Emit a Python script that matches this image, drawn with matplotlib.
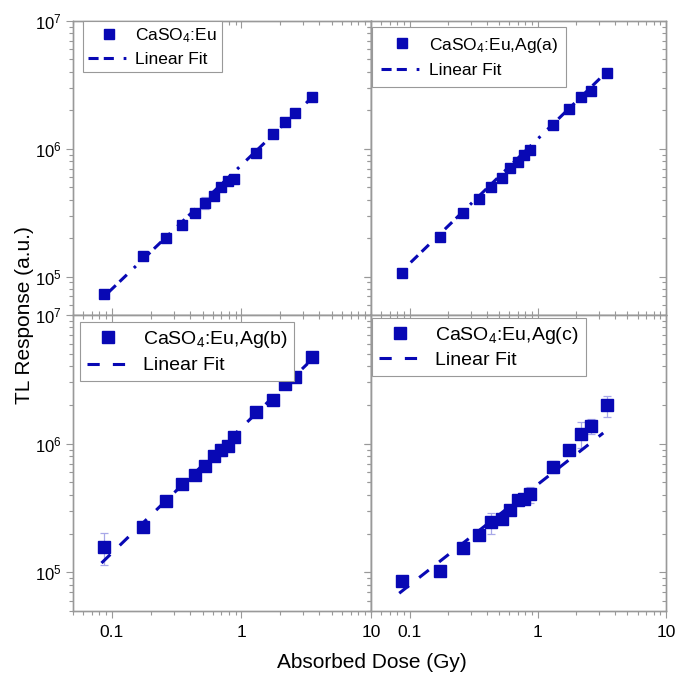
import matplotlib
matplotlib.use('Agg')
import matplotlib.pyplot as plt
from matplotlib.lines import Line2D
from matplotlib.ticker import FuncFormatter, NullFormatter

plt.rcParams['font.family'] = ['Liberation Sans', 'DejaVu Sans']
plt.rcParams['mathtext.fontset'] = 'custom'
plt.rcParams['mathtext.rm'] = 'Liberation Sans'
plt.rcParams['mathtext.it'] = 'Liberation Sans:italic'
plt.rcParams['mathtext.bf'] = 'Liberation Sans:bold'

# ---------------- data ----------------
dose = [0.087, 0.174, 0.261, 0.348, 0.435, 0.522, 0.609, 0.696, 0.783, 0.870,
        1.305, 1.74, 2.175, 2.61, 3.48]

tl_eu = [7.3e4, 1.45e5, 2.02e5, 2.53e5, 3.16e5, 3.78e5, 4.26e5, 5.0e5, 5.57e5, 5.85e5,
         9.25e5, 1.31e6, 1.61e6, 1.92e6, 2.55e6]
err_eu = [0, 0, 0, 0, 0, 4.0e4, 0, 0, 0, 0, 0, 0, 0, 0, 0]

tl_ag_a = [1.06e5, 2.04e5, 3.16e5, 4.01e5, 5.0e5, 5.92e5, 7.08e5, 7.88e5, 8.87e5, 9.82e5,
           1.54e6, 2.04e6, 2.55e6, 2.84e6, 3.93e6]
err_ag_a = [0] * 15

tl_ag_b = [1.58e5, 2.23e5, 3.56e5, 4.82e5, 5.7e5, 6.75e5, 7.95e5, 8.97e5, 9.52e5, 1.13e6,
           1.75e6, 2.19e6, 2.92e6, 3.29e6, 4.68e6]
err_ag_b = [4.5e4, 0, 0, 0, 0, 0, 0, 1.0e5, 0, 0, 0, 0, 0, 0, 0]

tl_ag_c = [8.5e4, 1.02e5, 1.55e5, 1.94e5, 2.44e5, 2.6e5, 3.06e5, 3.62e5, 3.7e5, 4.03e5,
           6.63e5, 8.97e5, 1.19e6, 1.37e6, 1.99e6]
err_ag_c = [0, 0, 0, 1.5e4, 4.5e4, 0, 0, 0, 0, 6.0e4, 7.5e4, 0, 2.7e5, 1.9e5, 3.7e5]

fit_x_eu = [0.094, 3.33]
fit_y_eu = [7.53e4, 2.4e6]
fit_x_ag_a = [0.102, 3.15]
fit_y_ag_a = [1.29e5, 3.66e6]
fit_x_ag_b = [0.083, 3.24]
fit_y_ag_b = [1.18e5, 4.19e6]
fit_x_ag_c = [0.083, 3.24]
fit_y_ag_c = [6.87e4, 1.21e6]

labels = [r'CaSO$_4$:Eu', r'CaSO$_4$:Eu,Ag(a)', r'CaSO$_4$:Eu,Ag(b)', r'CaSO$_4$:Eu,Ag(c)']
fit_label = 'Linear Fit'
x_ticks_labels = ['0.1', '1', '10']

# ---------------- style ----------------
W, H = 690, 673
blue = '#0808b4'
errc = '#a8a8e8'
spine_c = '#999999'

fig = plt.figure(figsize=(W / 100, H / 100), dpi=100)

def frac(x0, y0, x1, y1):
    return [x0 / W, 1 - y1 / H, (x1 - x0) / W, (y1 - y0) / H]

rects = [frac(73, 21, 371, 315), frac(371, 21, 666, 315),
         frac(73, 315, 371, 611), frac(371, 315, 666, 611)]

series = [(tl_eu, err_eu, fit_x_eu, fit_y_eu),
          (tl_ag_a, err_ag_a, fit_x_ag_a, fit_y_ag_a),
          (tl_ag_b, err_ag_b, fit_x_ag_b, fit_y_ag_b),
          (tl_ag_c, err_ag_c, fit_x_ag_c, fit_y_ag_c)]

top_dash = (3.3, 1.7, 3.3, 3.2, 0.9, 3.2)
bot_dash = (4.0, 4.3)

leg_cfg = [
    dict(fs=12.5, anchor=(0.033, 1.0), hl=2.4, htp=0.3, bp=0.3, ls=0.4, ms=7.8, lms=7, dash=top_dash),
    dict(fs=12.5, anchor=(0.004, 0.98), hl=2.4, htp=0.35, bp=0.5, ls=0.5, ms=7.8, lms=7, dash=top_dash),
    dict(fs=14, anchor=(0.023, 0.976), hl=2.2, htp=0.7, bp=0.35, ls=0.35, ms=9.3, lms=9, dash=bot_dash),
    dict(fs=14, anchor=(0.004, 0.99), hl=2.2, htp=0.7, bp=0.35, ls=0.3, ms=9.3, lms=9, dash=bot_dash),
]

xfmt = FuncFormatter(lambda v, p: {0.1: x_ticks_labels[0], 1.0: x_ticks_labels[1],
                                    10.0: x_ticks_labels[2]}.get(round(v, 3), ''))

for i, (rect, (tl, err, fx, fy), lab, cfg) in enumerate(zip(rects, series, labels, leg_cfg)):
    ax = fig.add_axes(rect)
    bottom_row = i >= 2
    left_col = i % 2 == 0

    ax.errorbar(dose, tl, yerr=err, fmt='none', ecolor=errc, elinewidth=0.9,
                capsize=3, capthick=0.9, zorder=2)
    ax.plot(fx, fy, color=blue, lw=2.2, dashes=cfg['dash'], zorder=3,
            solid_capstyle='butt', dash_capstyle='butt')
    ax.plot(dose, tl, 's', color=blue, ms=cfg['ms'], mec=blue, zorder=4, ls='none')

    ax.set_xscale('log')
    ax.set_yscale('log')
    ax.set_xlim(0.05, 10)
    ax.set_ylim(5e4, 1e7)

    ax.xaxis.set_major_formatter(xfmt)
    ax.xaxis.set_minor_formatter(NullFormatter())
    ax.yaxis.set_minor_formatter(NullFormatter())

    ax.tick_params(axis='y', which='both', direction='out', left=True, right=False,
                   labelleft=left_col, labelsize=12, pad=3.5, color=spine_c, width=0.8)
    ax.tick_params(axis='x', which='both', direction='out' if bottom_row else 'in',
                   bottom=True, top=False, labelbottom=bottom_row, labelsize=12.5,
                   pad=5, color=spine_c, width=0.8)
    ax.tick_params(which='major', length=5)
    ax.tick_params(which='minor', length=3)

    tx = ax.twinx()
    tx.set_yscale('log')
    tx.set_ylim(5e4, 1e7)
    tx.tick_params(axis='y', which='both', direction='in', labelright=False,
                   color=spine_c, width=0.8)
    tx.tick_params(which='major', length=5)
    tx.tick_params(which='minor', length=3)
    tx.yaxis.set_minor_formatter(NullFormatter())

    ty = ax.twiny()
    ty.set_xscale('log')
    ty.set_xlim(0.05, 10)
    ty.tick_params(axis='x', which='both', direction='in', labeltop=False,
                   color=spine_c, width=0.8)
    ty.tick_params(which='major', length=5)
    ty.tick_params(which='minor', length=3)
    ty.xaxis.set_minor_formatter(NullFormatter())

    for a in (ax, tx, ty):
        for s in a.spines.values():
            s.set_color(spine_c)
            s.set_linewidth(0.9)

    handles = [Line2D([], [], marker='s', ls='none', color=blue, ms=cfg['lms']),
               Line2D([], [], color=blue, lw=2.2, dashes=cfg['dash'])]
    leg = ty.legend(handles, [lab, fit_label], loc='upper left',
                    bbox_to_anchor=cfg['anchor'], bbox_transform=ax.transAxes,
                    borderaxespad=0, fontsize=cfg['fs'], handlelength=cfg['hl'],
                    handletextpad=cfg['htp'], borderpad=cfg['bp'],
                    labelspacing=cfg['ls'], fancybox=False, framealpha=1,
                    edgecolor=spine_c)
    leg.get_frame().set_linewidth(0.8)
    leg.set_zorder(10)

fig.text(25 / W, 1 - 315 / H, 'TL Response (a.u.)', rotation=90, fontsize=15,
         ha='center', va='center')
fig.text(372 / W, 1 - 662 / H, 'Absorbed Dose (Gy)', fontsize=15,
         ha='center', va='center')

fig.savefig('out.png', dpi=100)
